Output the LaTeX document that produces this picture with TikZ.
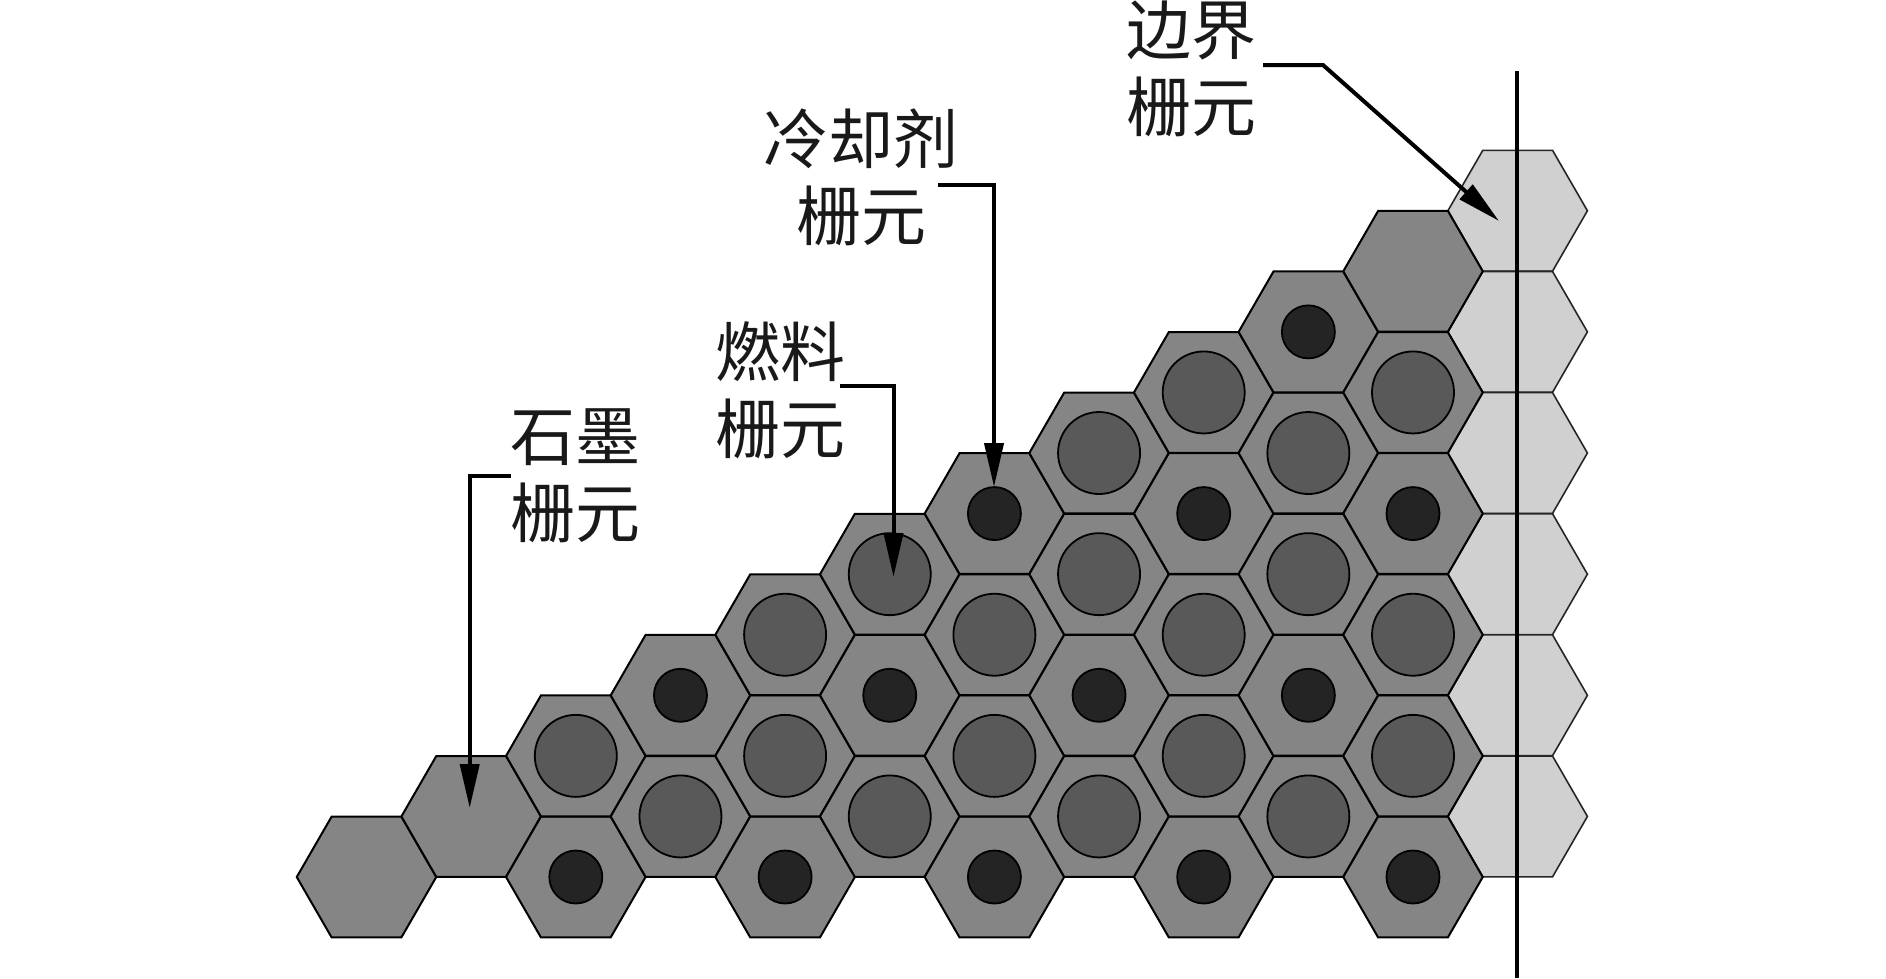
\documentclass[tikz,border=0pt]{standalone}
\usepackage{fontspec}
\usetikzlibrary{shapes.geometric,arrows.meta}
\newfontfamily\cjkfont{Noto Sans CJK SC}
\definecolor{graphitecol}{HTML}{858585}
\definecolor{fuelcol}{HTML}{595959}
\definecolor{coolcol}{HTML}{242424}
\definecolor{edgecol}{HTML}{D0D0D0}
\tikzset{
 hexcell/.style={regular polygon,regular polygon sides=6,minimum size=139.5pt,inner sep=0pt,outer sep=0pt,draw=black,line width=2pt,fill=graphitecol},
 edgecell/.style={hexcell,fill=edgecol,draw=black!85,line width=1.6pt},
 fuelpin/.style={circle,minimum size=82pt,inner sep=0pt,draw=black,line width=1.8pt,fill=fuelcol},
 coolpin/.style={circle,minimum size=53pt,inner sep=0pt,draw=black,line width=1.8pt,fill=coolcol},
 lbl/.style={font=\cjkfont\fontsize{65}{77}\selectfont,align=center,inner sep=0pt,text=black!90},
 lead/.style={draw=black,line width=4pt,-{Triangle[length=44pt,width=19pt]}},
}
\begin{document}
\begin{tikzpicture}[x=1pt,y=-1pt]
\useasboundingbox (0,0) rectangle (1886,978);
% boundary cells
\foreach \n in {11,9,7,5,3,1}{
  \node[edgecell] (b\n) at ({366.5+104.65*11},{877-60.57*\n}) {};
}
% graphite-filled hexagons: col/row pairs
\foreach \k/\n in {0/0,1/1,2/0,2/2,3/1,3/3,4/0,4/2,4/4,5/1,5/3,5/5,6/0,6/2,6/4,6/6,7/1,7/3,7/5,7/7,8/0,8/2,8/4,8/6,8/8,9/1,9/3,9/5,9/7,9/9,10/0,10/2,10/4,10/6,10/8,10/10}{
  \node[hexcell] (h\k-\n) at ({366.5+104.65*\k},{877-60.57*\n}) {};
}
% fuel pins
\foreach \k/\n in {2/2,3/1,4/2,4/4,5/1,5/5,6/2,6/4,7/1,7/5,7/7,8/2,8/4,8/8,9/1,9/5,9/7,10/2,10/4,10/8}{
  \node[fuelpin] (f\k-\n) at (h\k-\n.center) {};
}
% coolant pins
\foreach \k/\n in {2/0,3/3,4/0,5/3,6/0,6/6,7/3,8/0,8/6,9/3,9/9,10/0,10/6}{
  \node[coolpin] (c\k-\n) at (h\k-\n.center) {};
}
% symmetry line
\coordinate (symtop) at (1516.5,71);
\coordinate (symbot) at (1516.5,978);
\draw[line width=4pt] (symtop) -- (symbot);
% labels
\node[lbl] (lgraph) at (575,476) {石墨\\栅元};
\node[lbl] (lfuel) at (780,390) {燃料\\栅元};
\node[lbl] (lcool) at (861,177) {冷却剂\\栅元};
\node[lbl] (ledge) at (1191,69) {边界\\栅元};
% leaders
\coordinate (sgraph) at (511,476); \coordinate (egraph) at (469.7,476); \coordinate (tgraph) at (469.7,808);
\coordinate (sfuel) at (840,386);  \coordinate (efuel) at (893.5,386);  \coordinate (tfuel) at (893.5,577);
\coordinate (scool) at (938,185);  \coordinate (ecool) at (994,185);  \coordinate (tcool) at (994,487);
\coordinate (sedge) at (1263,65);  \coordinate (eedge) at (1323,65);  \coordinate (tedge) at (1499,221);
\draw[lead] (sgraph) -- (egraph) -- (tgraph);
\draw[lead] (sfuel) -- (efuel) -- (tfuel);
\draw[lead] (scool) -- (ecool) -- (tcool);
\draw[lead] (sedge) -- (eedge) -- (tedge);
\end{tikzpicture}
\end{document}
